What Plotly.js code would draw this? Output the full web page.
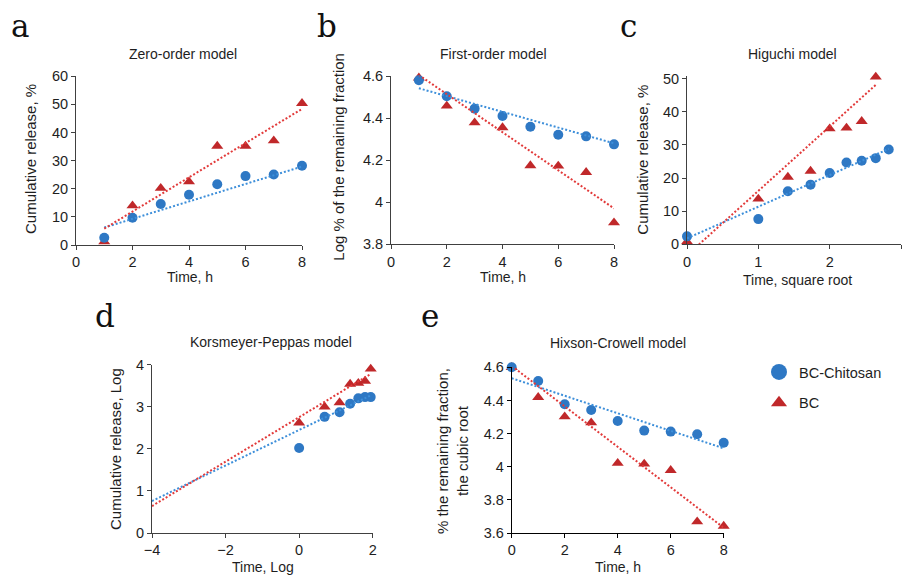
<!DOCTYPE html>
<html>
<head>
<meta charset="utf-8">
<script src="https://cdn.plot.ly/plotly-3.0.1.min.js"></script>
<style>html,body{margin:0;padding:0;background:#fff;}#chart{width:904px;height:576px;}</style>
</head>
<body>
<div id="chart"></div>
<script>
// ---------- Data ----------
// a: Zero-order model
const timeA = [1, 2, 3, 4, 5, 6, 7, 8];
const chitosanA = [2.6, 9.7, 14.6, 17.9, 21.6, 24.5, 25.1, 28.2];
const bcA = [1.2, 14.0, 20.2, 22.5, 35.2, 35.2, 37.1, 50.4];
const fitXA = [1, 8];
const fitChitosanA = [6.2, 27.9];
const fitBcA = [5.8, 48.4];

// b: First-order model
const timeB = [1, 2, 3, 4, 5, 6, 7, 8];
const chitosanB = [4.581, 4.505, 4.446, 4.411, 4.360, 4.322, 4.314, 4.276];
const bcB = [4.593, 4.459, 4.379, 4.356, 4.175, 4.173, 4.143, 3.903];
const fitXB = [1, 8];
const fitChitosanB = [4.543, 4.281];
const fitBcB = [4.606, 3.971];

// c: Higuchi model
const sqrtTimeChitosanC = [0, 1, 1.414, 1.732, 2, 2.236, 2.449, 2.646, 2.828];
const chitosanC = [2.4, 7.6, 16.0, 18.0, 21.5, 24.7, 25.2, 26.0, 28.6];
const sqrtTimeBcC = [0, 1, 1.414, 1.732, 2, 2.236, 2.449, 2.646];
const bcC = [0.8, 13.7, 20.3, 22.1, 34.9, 35.1, 37.1, 50.5];
const fitXChitosanC = [0, 2.828];
const fitChitosanC = [1.8, 28.8];
const fitXBcC = [0, 2.646];
const fitBcC = [-3.3, 48.1];

// d: Korsmeyer-Peppas model
const logTimeD = [0, 0.693, 1.099, 1.386, 1.609, 1.792, 1.946];
const chitosanD = [2.02, 2.76, 2.87, 3.07, 3.20, 3.23, 3.23];
const bcD = [2.62, 3.00, 3.10, 3.54, 3.56, 3.61, 3.90];
const fitXD = [-4, 1.946];
const fitChitosanD = [0.76, 3.27];
const fitBcD = [0.64, 3.78];

// e: Hixson-Crowell model
const timeE = [0, 1, 2, 3, 4, 5, 6, 7, 8];
const chitosanE = [4.600, 4.517, 4.377, 4.342, 4.276, 4.218, 4.212, 4.196, 4.145];
const bcE = [4.600, 4.419, 4.302, 4.266, 4.021, 4.017, 3.978, 3.668, 3.642];
const fitXE = [0, 8];
const fitChitosanE = [4.534, 4.111];
const fitBcE = [4.608, 3.632];

const seriesNames = ['BC-Chitosan', 'BC'];
const panelLetters = ['a', 'b', 'c', 'd', 'e'];
const panelTitles = ['Zero-order model', 'First-order model', 'Higuchi model', 'Korsmeyer-Peppas model', 'Hixson-Crowell model'];

// ---------- Styling ----------
const W = 904, H = 576;
const BLUE = '#2E78C4', RED = '#C0282A';
const BLUE_LINE = '#3D8FDA', RED_LINE = '#E23A3A';
const FONT = 'Liberation Sans, Arial, sans-serif';
const px = v => v / W;
const py = v => 1 - v / H;

const panels = [
  {x: timeA, c: chitosanA, xb: timeA, b: bcA, fxc: fitXA, fc: fitChitosanA, fxb: fitXA, fb: fitBcA},
  {x: timeB, c: chitosanB, xb: timeB, b: bcB, fxc: fitXB, fc: fitChitosanB, fxb: fitXB, fb: fitBcB},
  {x: sqrtTimeChitosanC, c: chitosanC, xb: sqrtTimeBcC, b: bcC, fxc: fitXChitosanC, fc: fitChitosanC, fxb: fitXBcC, fb: fitBcC},
  {x: logTimeD, c: chitosanD, xb: logTimeD, b: bcD, fxc: fitXD, fc: fitChitosanD, fxb: fitXD, fb: fitBcD},
  {x: timeE, c: chitosanE, xb: timeE, b: bcE, fxc: fitXE, fc: fitChitosanE, fxb: fitXE, fb: fitBcE}
];

const traces = [];
panels.forEach((p, i) => {
  const xa = i === 0 ? 'x' : 'x' + (i + 1);
  const ya = i === 0 ? 'y' : 'y' + (i + 1);
  traces.push({x: p.xb, y: p.b, xaxis: xa, yaxis: ya, type: 'scatter', mode: 'markers', showlegend: false,
    cliponaxis: false, marker: {symbol: 'triangle-up', size: 10.5, color: RED, line: {width: 0}}, name: seriesNames[1]});
  traces.push({x: p.x, y: p.c, xaxis: xa, yaxis: ya, type: 'scatter', mode: 'markers', showlegend: false,
    cliponaxis: false, marker: {symbol: 'circle', size: 10, color: BLUE, line: {width: 0}}, name: seriesNames[0]});
  traces.push({x: p.fxc, y: p.fc, xaxis: xa, yaxis: ya, type: 'scatter', mode: 'lines', showlegend: false,
    line: {color: BLUE_LINE, width: 2, dash: '2px,2px'}, hoverinfo: 'skip'});
  traces.push({x: p.fxb, y: p.fb, xaxis: xa, yaxis: ya, type: 'scatter', mode: 'lines', showlegend: false,
    line: {color: RED_LINE, width: 2, dash: '2px,2px'}, hoverinfo: 'skip'});
});
// legend entries
traces.push({x: [null], y: [null], type: 'scatter', mode: 'markers', name: seriesNames[0], legendgroup: 'g1',
  marker: {symbol: 'circle', size: 16, color: BLUE}});
traces.push({x: [null], y: [null], type: 'scatter', mode: 'markers', name: seriesNames[1], legendgroup: 'g2',
  marker: {symbol: 'triangle-up', size: 14, color: RED}});

function axis(domain, range, dtick, anchor, color) {
  return {
    domain: domain, range: range, dtick: dtick, tick0: 0, anchor: anchor,
    showgrid: false, zeroline: false, showline: true, linecolor: color || '#404040', linewidth: 1,
    ticks: 'outside', ticklen: 4, tickcolor: color || '#404040', tickwidth: 1,
    tickfont: {family: FONT, size: 14.5, color: '#1e1e1e'}, fixedrange: true
  };
}

const layout = {
  width: W, height: H,
  margin: {l: 0, r: 0, t: 0, b: 0},
  paper_bgcolor: '#fff', plot_bgcolor: 'rgba(0,0,0,0)',
  font: {family: FONT, color: '#1e1e1e'},
  showlegend: true,
  legend: {x: px(759), y: py(356), xanchor: 'left', yanchor: 'top', tracegroupgap: 9,
    font: {family: FONT, size: 14.5, color: '#1e1e1e'}, bgcolor: 'rgba(0,0,0,0)', itemclick: false, itemdoubleclick: false},
  xaxis: axis([px(76), px(302)], [0, 8], 2, 'y'),
  yaxis: axis([py(245), py(76.3)], [0, 60], 10, 'x'),
  xaxis2: axis([px(391), px(614)], [0, 8], 2, 'y2'),
  yaxis2: axis([py(244.3), py(76.3)], [3.8, 4.6], 0.2, 'x2'),
  xaxis3: axis([px(687), px(901)], [0, 3], 1, 'y3'),
  yaxis3: axis([py(244.3), py(76.3)], [0, 50.7], 10, 'x3'),
  xaxis4: axis([px(152), px(372.7)], [-4, 2], 2, 'y4'),
  yaxis4: axis([py(533), py(364.7)], [0, 4], 1, 'x4'),
  xaxis5: axis([px(511.7), px(723.7)], [0, 8], 2, 'y5', '#000'),
  yaxis5: axis([py(533), py(367.3)], [3.6, 4.6], 0.2, 'x5', '#000'),
  annotations: []
};

const ann = (text, x, y, opts) => Object.assign({text: text, x: px(x), y: py(y), xref: 'paper', yref: 'paper',
  showarrow: false, xanchor: 'center', yanchor: 'middle', font: {family: FONT, size: 14, color: '#1e1e1e'}}, opts || {});

// panel titles
const titlePos = [[183, 54], [493, 54], [792.5, 54], [270.5, 342.3], [617.6, 343.3]];
panelTitles.forEach((t, i) => layout.annotations.push(ann(t, titlePos[i][0], titlePos[i][1])));
// panel letters
const letterPos = [[9, 26], [315, 26], [618, 26], [93, 316], [419, 316]];
panelLetters.forEach((t, i) => layout.annotations.push(ann(t, letterPos[i][0], letterPos[i][1],
  {xanchor: 'left', font: {family: 'DejaVu Serif, serif', size: 31, color: '#111'}})));
// axis titles
const yTitle = {textangle: -90, font: {family: FONT, size: 15, color: '#1e1e1e'}};
layout.annotations.push(ann('Time, h', 190, 277));
layout.annotations.push(ann('Cumulative release, %', 30, 159, yTitle));
layout.annotations.push(ann('Time, h', 503, 277));
layout.annotations.push(ann('Log % of the remaining fraction', 337.7, 157, yTitle));
layout.annotations.push(ann('Time, square root', 797, 280));
layout.annotations.push(ann('Cumulative release, %', 641.7, 160, yTitle));
layout.annotations.push(ann('Time, Log', 263, 567));
layout.annotations.push(ann('Cumulative release, Log', 115, 449, yTitle));
layout.annotations.push(ann('Time, h', 618, 566.5));
layout.annotations.push(ann('% the remaining fraction,<br>the cubic root', 452, 451, yTitle));

Plotly.newPlot('chart', traces, layout, {staticPlot: true, displayModeBar: false});
</script>
</body>
</html>
